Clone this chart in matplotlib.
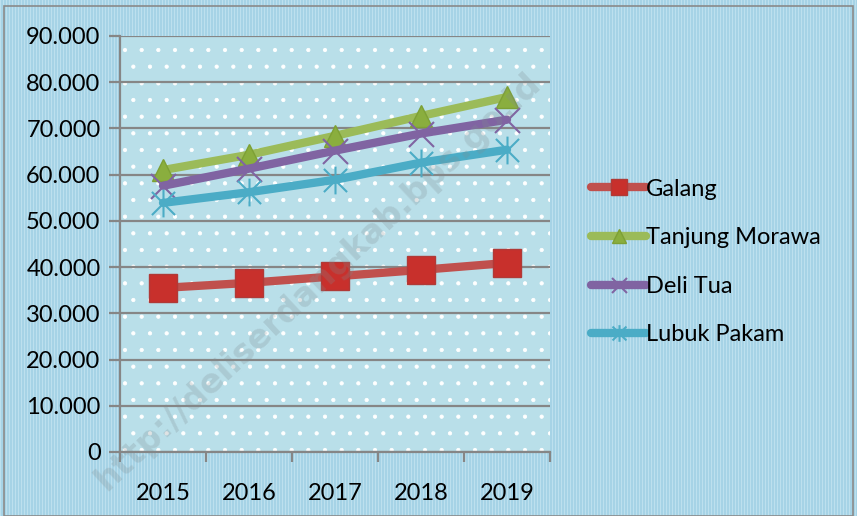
import numpy as np
import matplotlib
matplotlib.use("Agg")
import matplotlib.pyplot as plt
from matplotlib.path import Path
from matplotlib.patches import Rectangle
from matplotlib.ticker import FuncFormatter, MultipleLocator, FixedLocator

years = ["2015", "2016", "2017", "2018", "2019"]
galang = [35500, 36600, 38000, 39400, 40900]
tanjung_morawa = [61000, 64300, 68400, 72700, 76800]
deli_tua = [57600, 61300, 65200, 68900, 71900]
lubuk_pakam = [53900, 56200, 58900, 62600, 65400]
series_names = ["Galang", "Tanjung Morawa", "Deli Tua", "Lubuk Pakam"]

plt.rcParams['font.family'] = ['Lato', 'DejaVu Sans']
plt.rcParams['hatch.color'] = 'white'
plt.rcParams['hatch.linewidth'] = 0.6

W, H = 857, 516
fig = plt.figure(figsize=(W / 100, H / 100), dpi=100)
fig.patch.set_facecolor("white")

# striped figure background
stripe = np.zeros((H, W, 3))
c1 = np.array([0xa6, 0xd3, 0xe6]) / 255
c2 = np.array([0xbd, 0xe0, 0xee]) / 255
for xx in range(W):
    stripe[:, xx, :] = c1 if (xx % 3) else c2
bg_ax = fig.add_axes([0, 0, 1, 1], zorder=-10)
bg_ax.imshow(stripe, aspect="auto", extent=[0, 1, 0, 1], interpolation="nearest")
bg_ax.set_axis_off()
fig.patches.append(Rectangle((4 / W, 0), (W - 8) / W, (H - 6) / H, transform=fig.transFigure,
                             fill=False, edgecolor="#8a8a8a", linewidth=1.2))

ax = fig.add_axes([120 / W, (H - 452) / H, 430 / W, 416 / H])
ax.set_facecolor("#b9dfe9")
ax.patch.set_hatch(".")
ax.patch.set_edgecolor("white")
ax.patch.set_linewidth(0)

x = np.arange(len(years))

# asterisk marker (X plus vertical line)
star = Path([(-1, -1), (1, 1), (-1, 1), (1, -1), (0, -1.2), (0, 1.2)],
            [Path.MOVETO, Path.LINETO, Path.MOVETO, Path.LINETO, Path.MOVETO, Path.LINETO])

ax.plot(x, galang, color="#c0504d", lw=6, marker="s", ms=20, mfc="#c8302c", mec="#b03a37",
        mew=1, solid_capstyle="round", label=series_names[0], zorder=3)
ax.plot(x, tanjung_morawa, color="#9bbb59", lw=6, marker="^", ms=16, mfc="#8aae3e", mec="#7da035",
        mew=1, solid_capstyle="round", label=series_names[1], zorder=3)
ax.plot(x, deli_tua, color="#8064a2", lw=6, marker="x", ms=18, mec="#8064a2", mew=1.5,
        solid_capstyle="round", label=series_names[2], zorder=3)
ax.plot(x, lubuk_pakam, color="#4bacc6", lw=6, marker=star, ms=20, mec="#4bacc6", mew=1.5,
        solid_capstyle="round", label=series_names[3], zorder=3)

ax.set_xlim(-0.5, len(years) - 0.5)
ax.set_ylim(0, 90000)
ax.yaxis.set_major_locator(MultipleLocator(10000))
ax.yaxis.set_major_formatter(FuncFormatter(lambda v, p: f"{int(v):,}".replace(",", ".")))
ax.grid(axis="y", color="#868686", lw=1.6)
ax.set_axisbelow(True)

ax.set_xticks(x)
ax.set_xticklabels(years)
ax.xaxis.set_minor_locator(FixedLocator(np.arange(-0.5, len(years), 1.0)))
ax.tick_params(axis="x", which="major", length=0, pad=22, labelsize=17)
ax.tick_params(axis="x", which="minor", length=7, width=1.6, color="#868686")
ax.tick_params(axis="y", length=8, width=1.6, color="#868686", labelsize=17, pad=6)

for s in ["top", "right"]:
    ax.spines[s].set_visible(False)
for s in ["left", "bottom"]:
    ax.spines[s].set_color("#868686")
    ax.spines[s].set_linewidth(1.6)

leg = ax.legend(loc="center left", bbox_to_anchor=(582 / W, 1 - 262 / H), bbox_transform=fig.transFigure,
                frameon=False, fontsize=17, handlelength=2.3, handletextpad=0.0,
                labelspacing=1.17, markerscale=0.6, borderaxespad=0)

fig.text(318 / W, 1 - 282 / H, "http://deliserdangkab.bps.go.id", rotation=43,
         ha="center", va="center", fontsize=24, fontweight="bold", color="#7f8c90",
         alpha=0.25, family="DejaVu Sans", zorder=20)

fig.savefig("out.png", dpi=100)
